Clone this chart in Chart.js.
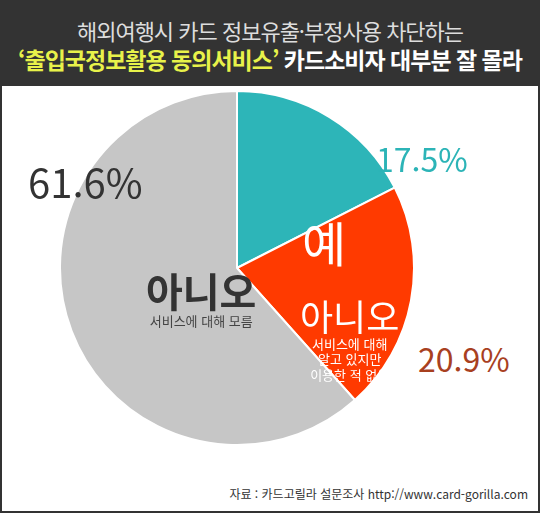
<!DOCTYPE html>
<html lang="ko">
<head>
<meta charset="UTF-8">
<title>출입국정보활용 동의서비스</title>
<style>
* { margin: 0; padding: 0; box-sizing: border-box; }
body { width: 540px; height: 513px; background: #333; font-family: "Noto Sans CJK KR", sans-serif; position: relative; overflow: hidden; }
.head { position: absolute; left: 0; top: 0; width: 540px; height: 86px; text-align: center; }
.t1 { position: absolute; top: 14px; width: 100%; color: #ddd; font-size: 22px; letter-spacing: -1px; }
.t2 { position: absolute; top: 42px; width: 100%; color: #fff; font-size: 23px; font-weight: bold; letter-spacing: -1px; }
.t2 span { color: #e8f24a; }
.panel { position: absolute; left: 2px; top: 86px; width: 536px; height: 425px; background: #fff; }
#wrap { position: absolute; left: 59px; top: 90px; width: 356px; height: 356px; }
.lab { position: absolute; white-space: nowrap; text-align: center; line-height: 1.15; }
</style>
</head>
<body>
<div class="head">
  <div class="t1">해외여행시 카드 정보유출·부정사용 차단하는</div>
  <div class="t2"><span>‘출입국정보활용 동의서비스’</span> 카드소비자 대부분 잘 몰라</div>
</div>
<div class="panel"></div>
<div id="wrap"><canvas id="pie"></canvas></div>

<div class="lab" style="left:376px;top:140px;color:#2cb4b7;font-size:32px;">17.5%</div>
<div class="lab" style="left:418px;top:340px;color:#a8401f;font-size:32px;">20.9%</div>
<div class="lab" style="left:28px;top:158px;color:#333;font-size:40px;">61.6%</div>
<div class="lab" style="left:302px;top:214px;color:#fff;font-size:48px;">예</div>
<div class="lab" style="left:300px;top:296px;color:#fff;">
  <div style="font-size:36px;line-height:1.1;">아니오</div>
  <div style="font-size:13px;line-height:1.2;">서비스에 대해<br>알고 있지만<br>이용한 적 없음</div>
</div>
<div class="lab" style="left:146px;top:268px;color:#333;">
  <div style="font-size:40px;font-weight:bold;line-height:1.1;">아니오</div>
  <div style="font-size:13px;color:#444;margin-top:2px;">서비스에 대해 모름</div>
</div>
<div class="lab" style="right:12px;top:487px;color:#333;font-size:12px;">자료 : 카드고릴라 설문조사 http://www.card-gorilla.com</div>

<script src="https://cdn.jsdelivr.net/npm/chart.js@4"></script>
<script>
const labels = ['예', '아니오 (알고 있지만 이용한 적 없음)', '아니오 (모름)'];
const values = [17.5, 20.9, 61.6];
const colors = ['#2db5b8', '#ff3a00', '#c6c6c6'];

new Chart(document.getElementById('pie'), {
  type: 'pie',
  data: {
    labels: labels,
    datasets: [{ data: values, backgroundColor: colors, borderColor: '#fff', borderWidth: 2 }]
  },
  options: {
    responsive: true,
    maintainAspectRatio: false,
    animation: false,
    layout: { padding: 0 },
    plugins: { legend: { display: false }, tooltip: { enabled: false } }
  }
});
</script>
</body>
</html>
